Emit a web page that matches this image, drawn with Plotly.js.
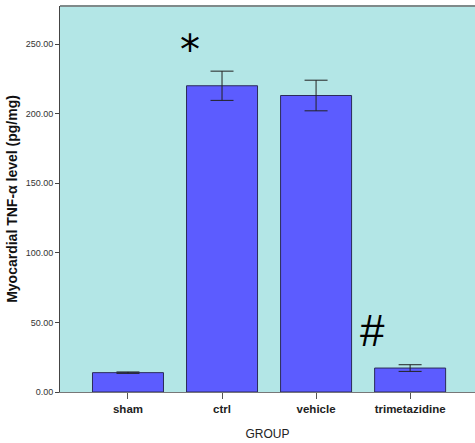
<!DOCTYPE html>
<html>
<head>
<meta charset="utf-8">
<script src="https://cdn.plot.ly/plotly-3.0.1.min.js"></script>
<style>html,body{margin:0;padding:0;background:#fff;}</style>
</head>
<body>
<div id="chart" style="width:475px;height:443px;"></div>
<script>
var groups = ["sham", "ctrl", "vehicle", "trimetazidine"];
var means = [13.9, 220.0, 213.0, 17.2];
var errors = [0.5, 10.5, 11.0, 2.4];
var yTickVals = [0, 50, 100, 150, 200, 250];
var yTickText = ["0.00", "50.00", "100.00", "150.00", "200.00", "250.00"];
var marks = [
  {text: "*", group: 0.66, value: 245.5},
  {text: "#", group: 2.6, value: 44.5}
];

var trace = {
  type: "bar",
  x: [0, 1, 2, 3],
  y: means,
  width: 0.755,
  marker: {color: "#5c5cff", line: {color: "#2b2b5a", width: 1}},
  error_y: {type: "data", array: errors, visible: true, color: "#222222", thickness: 1, width: 11.5},
  hoverinfo: "none"
};

var layout = {
  width: 475, height: 443,
  margin: {l: 60, r: 0, t: 6, b: 51, pad: 0},
  paper_bgcolor: "#ffffff",
  plot_bgcolor: "#b3e6e6",
  showlegend: false,
  xaxis: {
    range: [-0.723, 3.69],
    tickvals: [0, 1, 2, 3],
    ticktext: groups,
    ticks: "outside", ticklen: 6, tickcolor: "#555", tickwidth: 1,
    showline: true, linecolor: "#777", linewidth: 1,
    showgrid: false, zeroline: false,
    tickfont: {family: "Liberation Sans, Arial, sans-serif", size: 11.5, color: "#222", weight: "bold"},
    title: {text: "GROUP", font: {family: "Liberation Sans, Arial, sans-serif", size: 12, color: "#222"}, standoff: 15}
  },
  yaxis: {
    range: [0, 277.3],
    tickvals: yTickVals,
    ticktext: yTickText,
    ticks: "outside", ticklen: 4, tickcolor: "#444", tickwidth: 1,
    showline: true, linecolor: "#444", linewidth: 1,
    showgrid: false, zeroline: false,
    tickfont: {family: "Liberation Sans Narrow, Liberation Sans, Arial, sans-serif", size: 9, color: "#333"},
    title: {text: "Myocardial TNF-α level (pg/mg)", font: {family: "Liberation Sans, Arial, sans-serif", size: 14, color: "#111", weight: "bold"}, standoff: 4}
  },
  shapes: [
    {type: "line", xref: "paper", yref: "paper", x0: 0, x1: 1, y0: 1, y1: 1, line: {color: "#7f8a8a", width: 2}}
  ],
  annotations: marks.map(function (m) {
    return {
      text: m.text, x: m.group, y: m.value, xref: "x", yref: "y",
      showarrow: false, xanchor: "center", yanchor: "middle",
      font: {family: m.text === "*" ? "DejaVu Sans, sans-serif" : "Liberation Sans, Arial, sans-serif", size: m.text === "*" ? 40 : 44, color: "#000"}
    };
  })
};

Plotly.newPlot("chart", [trace], layout, {displayModeBar: false, staticPlot: true});
</script>
</body>
</html>
